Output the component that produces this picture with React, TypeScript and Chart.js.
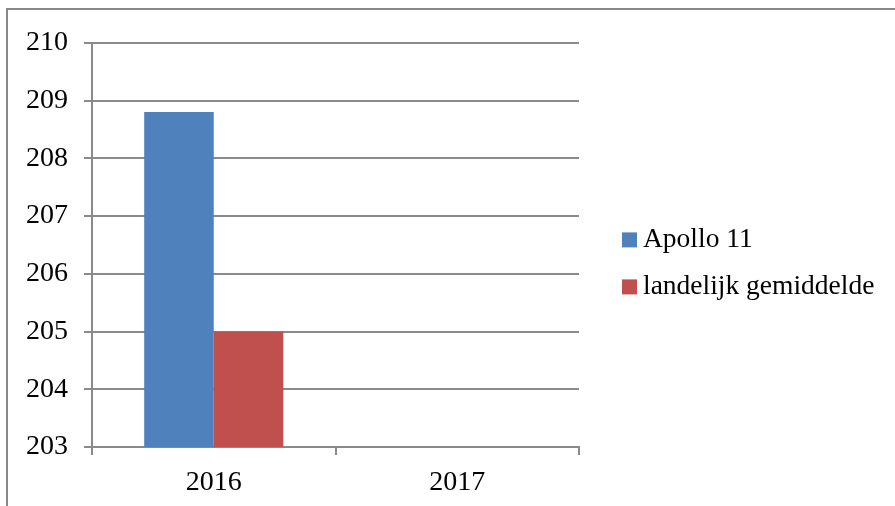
import React, { useEffect, useRef } from 'react';
import { Chart, registerables } from 'chart.js';

Chart.register(...registerables);

const categories = ['2016', '2017'];
const apolloValues: (number | null)[] = [208.8, null];
const landelijkValues: (number | null)[] = [205.0, null];
const seriesNames = ['Apollo 11', 'landelijk gemiddelde'];
const seriesColors = ['#4f81bd', '#c0504d'];
const yMin = 203;
const yMax = 210;
const yStep = 1;

const FONT = '"Liberation Serif", "Times New Roman", serif';
const GRID = '#8a8a8a';

const sideLegend = {
  id: 'sideLegend',
  afterDraw(chart: any) {
    const { ctx, chartArea } = chart;
    const ds = chart.data.datasets;
    const mid = (chartArea.top + chartArea.bottom) / 2 + 18.5;
    const x = chartArea.right + 43;
    ctx.save();
    ctx.font = `27.5px ${FONT}`;
    ctx.textBaseline = 'middle';
    ctx.textAlign = 'left';
    ds.forEach((d: any, i: number) => {
      const cy = mid + (i - (ds.length - 1) / 2) * 47;
      ctx.fillStyle = d.backgroundColor;
      ctx.fillRect(x, cy - 7.5, 15, 15);
      ctx.fillStyle = '#000';
      ctx.fillText(d.label, x + 21, cy);
    });
    ctx.restore();
  },
};

export default function App() {
  const ref = useRef<HTMLCanvasElement>(null);
  useEffect(() => {
    const chart = new Chart(ref.current as HTMLCanvasElement, {
      type: 'bar',
      data: {
        labels: categories,
        datasets: [
          {
            label: seriesNames[0],
            data: apolloValues,
            backgroundColor: seriesColors[0],
            borderWidth: 0,
            categoryPercentage: 0.5714,
            barPercentage: 1,
          },
          {
            label: seriesNames[1],
            data: landelijkValues,
            backgroundColor: seriesColors[1],
            borderWidth: 0,
            categoryPercentage: 0.5714,
            barPercentage: 1,
          },
        ],
      },
      options: {
        responsive: false,
        animation: false,
        layout: { padding: { top: 28, right: 316, bottom: 0, left: 0 } },
        plugins: {
          legend: { display: false },
          tooltip: { enabled: false },
        },
        scales: {
          x: {
            grid: {
              offset: true,
              drawOnChartArea: false,
              drawTicks: true,
              tickLength: 8,
              color: GRID,
              lineWidth: 2,
            },
            border: { display: true, color: GRID, width: 2 },
            ticks: {
              color: '#000',
              font: { family: FONT, size: 28 },
              padding: 11,
              maxRotation: 0,
            },
            afterFit: (s: any) => {
              s.height = 59;
            },
          },
          y: {
            min: yMin,
            max: yMax,
            grid: {
              color: GRID,
              lineWidth: 2,
              drawTicks: true,
              tickLength: 8,
            },
            border: { display: true, color: GRID, width: 2 },
            ticks: {
              stepSize: yStep,
              color: '#000',
              font: { family: FONT, size: 28 },
              padding: 16,
            },
            afterFit: (s: any) => {
              s.width = 84;
            },
          },
        },
      },
      plugins: [sideLegend],
    });
    return () => chart.destroy();
  }, []);

  return (
    <div
      style={{
        position: 'fixed',
        left: 6,
        top: 8,
        width: 889,
        height: 498,
        overflow: 'hidden',
      }}
    >
      <div
        style={{
          width: 920,
          height: 530,
          border: '2px solid #888',
          boxSizing: 'border-box',
          background: '#fff',
        }}
      >
        <canvas ref={ref} width={887} height={496} style={{ display: 'block' }} />
      </div>
    </div>
  );
}
